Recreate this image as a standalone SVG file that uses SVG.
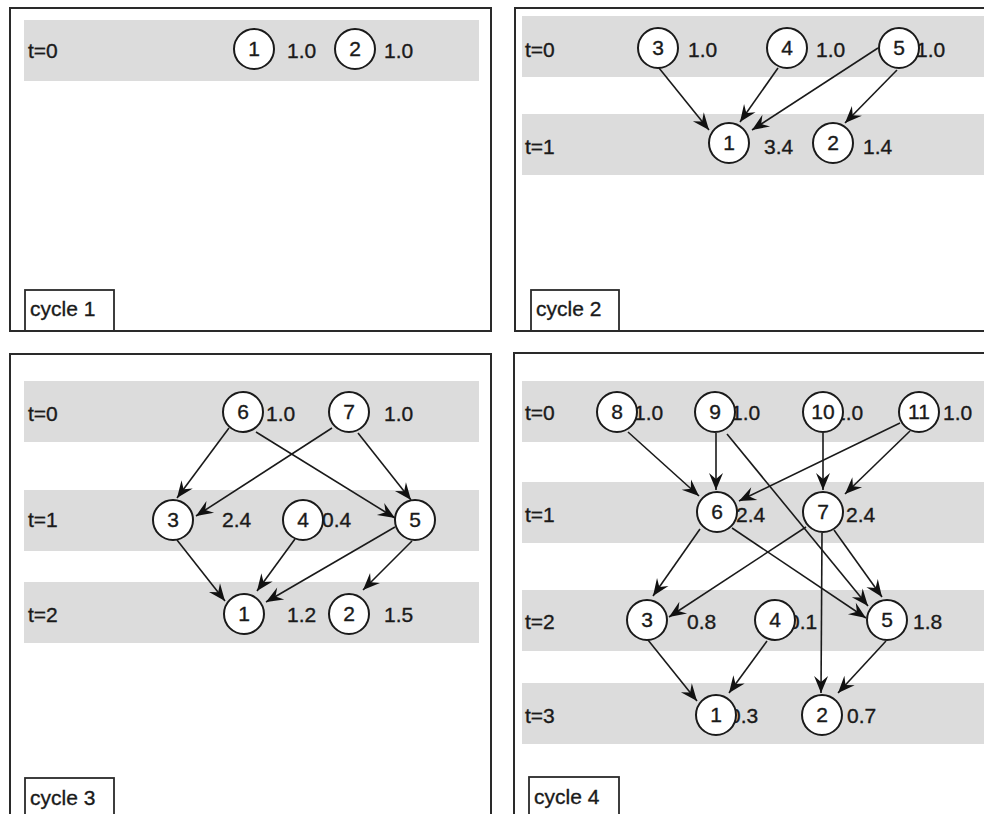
<svg xmlns="http://www.w3.org/2000/svg" width="984" height="814" viewBox="0 0 984 814">
<defs>
<marker id="arr" viewBox="-18 -8 19 16" refX="0" refY="0" markerWidth="19" markerHeight="16" markerUnits="userSpaceOnUse" orient="auto">
<path d="M0,0 L-17,-7 L-11,0 L-17,7 Z" fill="#111"/>
</marker>
<style>
.band{fill:#dcdcdc}
.frame{fill:none;stroke:#2a2a2a;stroke-width:2}
.cbox{fill:#fff;stroke:#2a2a2a;stroke-width:1.8}
text{font-family:"Liberation Sans",Arial,sans-serif;font-size:21px;fill:#1a1a1a;stroke:#1a1a1a;stroke-width:0.35}
.num{text-anchor:middle}
.node circle{fill:#fff;stroke:#1a1a1a;stroke-width:2}
.edges line{stroke:#1a1a1a;stroke-width:1.6;marker-end:url(#arr)}
</style>
</defs>
<rect width="984" height="814" fill="#fff"/>

<!-- Panel 1 -->
<g id="panel1">
<rect class="band" x="24" y="20" width="455" height="61"/>
<text x="28" y="58">t=0</text>
<g id="p1-n1" class="node"><text x="287" y="58">1.0</text><circle cx="254" cy="49" r="20"/><text class="num" x="254" y="56">1</text></g>
<g id="p1-n2" class="node"><text x="384" y="58">1.0</text><circle cx="355" cy="49" r="20"/><text class="num" x="355" y="56">2</text></g>
<g id="p1-label"><rect class="cbox" x="25" y="290" width="89" height="41"/><text x="30" y="316">cycle 1</text></g>
<rect class="frame" x="10" y="8" width="481" height="323"/>
</g>

<!-- Panel 2 -->
<g id="panel2">
<rect class="band" x="522" y="16" width="470" height="61"/>
<rect class="band" x="522" y="114" width="470" height="61"/>
<text x="525" y="57">t=0</text>
<text x="525" y="154">t=1</text>
<g id="p2-edges" class="edges">
<line x1="659" y1="68" x2="709" y2="130"/>
<line x1="778" y1="68" x2="740" y2="122"/>
<line x1="878" y1="48" x2="752" y2="130"/>
<line x1="897" y1="70" x2="845" y2="123"/>
</g>
<g id="p2-n3" class="node"><text x="688" y="57">1.0</text><circle cx="658" cy="48" r="20"/><text class="num" x="658" y="55">3</text></g>
<g id="p2-n4" class="node"><text x="816" y="57">1.0</text><circle cx="787" cy="48" r="20"/><text class="num" x="787" y="55">4</text></g>
<g id="p2-n5" class="node"><text x="916" y="57">1.0</text><circle cx="899" cy="48" r="20"/><text class="num" x="899" y="55">5</text></g>
<g id="p2-n1" class="node"><text x="764" y="154">3.4</text><circle cx="729" cy="143" r="20"/><text class="num" x="729" y="150">1</text></g>
<g id="p2-n2" class="node"><text x="863" y="154">1.4</text><circle cx="833" cy="143" r="20"/><text class="num" x="833" y="150">2</text></g>
<g id="p2-label"><rect class="cbox" x="531" y="290" width="88" height="41"/><text x="536" y="316">cycle 2</text></g>
<rect class="frame" x="515" y="8" width="490" height="323"/>
</g>

<!-- Panel 3 -->
<g id="panel3">
<rect class="band" x="24" y="381" width="455" height="61"/>
<rect class="band" x="24" y="490" width="455" height="61"/>
<rect class="band" x="24" y="582" width="455" height="61"/>
<text x="28" y="421">t=0</text>
<text x="28" y="527">t=1</text>
<text x="28" y="622">t=2</text>
<g id="p3-edges" class="edges">
<line x1="229" y1="428" x2="177" y2="498"/>
<line x1="256" y1="432" x2="395" y2="518"/>
<line x1="332" y1="428" x2="196" y2="516"/>
<line x1="358" y1="433" x2="411" y2="500"/>
<line x1="177" y1="540" x2="225" y2="601"/>
<line x1="295" y1="539" x2="257" y2="591"/>
<line x1="395" y1="527" x2="266" y2="602"/>
<line x1="412" y1="541" x2="363" y2="590"/>
</g>
<g id="p3-n6" class="node"><text x="266" y="421">1.0</text><circle cx="243" cy="412" r="20"/><text class="num" x="243" y="419">6</text></g>
<g id="p3-n7" class="node"><text x="384" y="421">1.0</text><circle cx="349" cy="412" r="20"/><text class="num" x="349" y="419">7</text></g>
<g id="p3-n3" class="node"><text x="222" y="527">2.4</text><circle cx="173" cy="520" r="20"/><text class="num" x="173" y="527">3</text></g>
<g id="p3-n4" class="node"><text x="322" y="527">0.4</text><circle cx="303" cy="520" r="20"/><text class="num" x="303" y="527">4</text></g>
<g id="p3-n5" class="node"><circle cx="415" cy="520" r="20"/><text class="num" x="415" y="527">5</text></g>
<g id="p3-n1" class="node"><text x="287" y="622">1.2</text><circle cx="244" cy="614" r="20"/><text class="num" x="244" y="621">1</text></g>
<g id="p3-n2" class="node"><text x="384" y="622">1.5</text><circle cx="349" cy="614" r="20"/><text class="num" x="349" y="621">2</text></g>
<g id="p3-label"><rect class="cbox" x="25" y="778" width="89" height="50"/><text x="30" y="805">cycle 3</text></g>
<rect class="frame" x="10" y="354" width="481" height="480"/>
</g>

<!-- Panel 4 -->
<g id="panel4">
<rect class="band" x="522" y="381" width="470" height="61"/>
<rect class="band" x="522" y="482" width="470" height="61"/>
<rect class="band" x="522" y="590" width="470" height="61"/>
<rect class="band" x="522" y="683" width="470" height="61"/>
<text x="525" y="420">t=0</text>
<text x="525" y="522">t=1</text>
<text x="525" y="629">t=2</text>
<text x="525" y="723">t=3</text>
<g id="p4-edges" class="edges">
<line x1="628" y1="432" x2="699" y2="496"/>
<line x1="716" y1="433" x2="716" y2="490"/>
<line x1="727" y1="434" x2="868" y2="606"/>
<line x1="823" y1="433" x2="823" y2="490"/>
<line x1="900" y1="423" x2="739" y2="501"/>
<line x1="910" y1="431" x2="845" y2="494"/>
<line x1="700" y1="529" x2="653" y2="596"/>
<line x1="732" y1="528" x2="866" y2="618"/>
<line x1="806" y1="527" x2="669" y2="617"/>
<line x1="834" y1="530" x2="882" y2="597"/>
<line x1="822" y1="533" x2="821" y2="693"/>
<line x1="648" y1="640" x2="697" y2="701"/>
<line x1="767" y1="641" x2="729" y2="693"/>
<line x1="886" y1="641" x2="838" y2="693"/>
</g>
<g id="p4-n8" class="node"><text x="634" y="420">1.0</text><circle cx="617" cy="412" r="20"/><text class="num" x="617" y="419">8</text></g>
<g id="p4-n9" class="node"><text x="731" y="420">1.0</text><circle cx="715" cy="412" r="20"/><text class="num" x="715" y="419">9</text></g>
<g id="p4-n10" class="node"><text x="834" y="420">1.0</text><circle cx="823" cy="412" r="20"/><text class="num" x="823" y="419">10</text></g>
<g id="p4-n11" class="node"><text x="943" y="420">1.0</text><circle cx="919" cy="412" r="20"/><text class="num" x="919" y="419">11</text></g>
<g id="p4-n6" class="node"><text x="736" y="522">2.4</text><circle cx="717" cy="512" r="20"/><text class="num" x="717" y="519">6</text></g>
<g id="p4-n7" class="node"><text x="846" y="522">2.4</text><circle cx="823" cy="512" r="20"/><text class="num" x="823" y="519">7</text></g>
<g id="p4-n3" class="node"><text x="687" y="629">0.8</text><circle cx="647" cy="620" r="20"/><text class="num" x="647" y="627">3</text></g>
<g id="p4-n4" class="node"><text x="788" y="629">0.1</text><circle cx="775" cy="620" r="20"/><text class="num" x="775" y="627">4</text></g>
<g id="p4-n5" class="node"><text x="913" y="629">1.8</text><circle cx="887" cy="620" r="20"/><text class="num" x="887" y="627">5</text></g>
<g id="p4-n1" class="node"><text x="729" y="723">0.3</text><circle cx="716" cy="715" r="20"/><text class="num" x="716" y="722">1</text></g>
<g id="p4-n2" class="node"><text x="847" y="723">0.7</text><circle cx="822" cy="715" r="20"/><text class="num" x="822" y="722">2</text></g>
<g id="p4-label"><rect class="cbox" x="529" y="777" width="90" height="50"/><text x="534" y="804">cycle 4</text></g>
<rect class="frame" x="514" y="353" width="490" height="480"/>
</g>
</svg>
